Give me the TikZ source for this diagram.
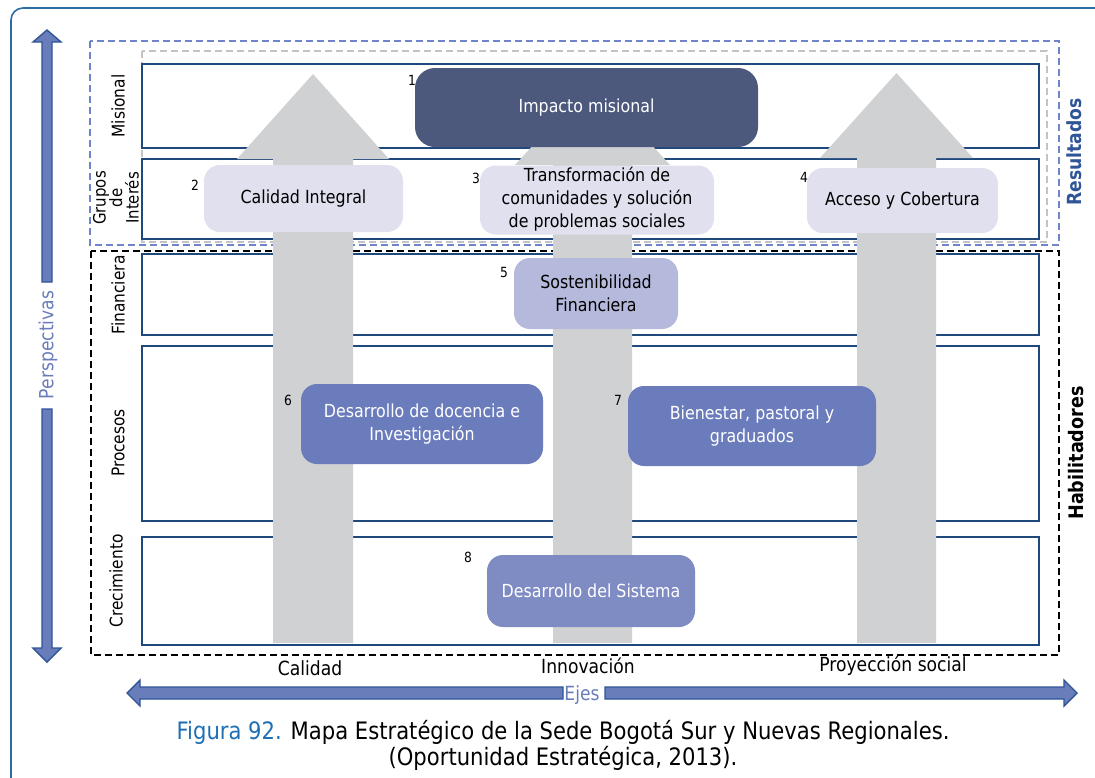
\documentclass[tikz,border=0pt]{standalone}
\usepackage{fontspec}
\setmainfont{DejaVu Sans}[FakeStretch=0.88]
\definecolor{framec}{RGB}{46,109,164}
\definecolor{rowc}{RGB}{31,73,125}
\definecolor{grayarr}{RGB}{208,209,211}
\definecolor{bA}{RGB}{76,89,125}
\definecolor{bB}{RGB}{224,224,238}
\definecolor{bC}{RGB}{181,186,220}
\definecolor{bD}{RGB}{107,124,188}
\definecolor{bE}{RGB}{127,139,195}
\definecolor{dashblue}{RGB}{112,132,204}
\definecolor{dashgray}{RGB}{195,195,195}
\definecolor{arrfill}{RGB}{106,125,187}
\definecolor{arrline}{RGB}{47,85,151}
\definecolor{lightlbl}{RGB}{106,125,187}
\definecolor{resc}{RGB}{47,85,151}
\definecolor{figc}{RGB}{31,111,181}
\tikzset{
  rowbox/.style={draw=rowc, line width=1.8pt, fill=white},
  sbox/.style={rounded corners=16pt, inner sep=0pt, align=center, font=\fontsize{18}{23}\selectfont},
  num/.style={font=\fontsize{14}{16}\selectfont, inner sep=0pt},
  side/.style={rotate=90, font=\fontsize{17.5}{17}\selectfont, align=center, inner sep=0pt},
  axis/.style={font=\fontsize{19.5}{22}\selectfont, inner sep=0pt},
  bluearrow/.style={fill=arrfill, draw=arrline, line width=1.4pt, line join=miter},
}
\begin{document}
\begin{tikzpicture}[x=1pt,y=-1pt]
\useasboundingbox (0,0) rectangle (1095,777);
\clip (0,0) rectangle (1095,777);
\fill[white] (0,0) rectangle (1095,777);
% outer frame
\draw[framec, line width=1.6pt, rounded corners=12pt] (11,800) -- (11,8) -- (1110,8);
% dashed groups
\draw[dashblue, line width=1.6pt, dash pattern=on 7pt off 4pt] (90,41) rectangle (1059,245);
\draw[dashgray, line width=1.6pt, dash pattern=on 7pt off 4pt] (142,51) rectangle (1047,242);
\draw[black, line width=1.4pt, dash pattern=on 7pt off 4pt] (91,251) rectangle (1059,655);
% rows
\draw[rowbox] (142,64) rectangle (1039,148);
\draw[rowbox] (142,159) rectangle (1039,239);
\draw[rowbox] (142,254) rectangle (1039,335);
\draw[rowbox] (142,346) rectangle (1039,521);
\draw[rowbox] (142,537) rectangle (1039,645);
% row labels
\node[side] (lmis) at (118,106) {Misional};
\node[side, font=\fontsize{17}{16.5}\selectfont] (lgru) at (116,198) {Grupos\\de\\Interés};
\node[side] (lfin) at (118,295) {Financiera};
\node[side] (lpro) at (118,443) {Procesos};
\node[side] (lcre) at (116,581) {Crecimiento};
% gray axis arrows
\fill[grayarr] (273,643) -- (273,159) -- (237,159) -- (313,74) -- (389,159) -- (353,159) -- (353,643) -- cycle;
\fill[grayarr] (553,643) -- (553,165) -- (515,165) -- (592.5,80) -- (670,165) -- (632,165) -- (632,643) -- cycle;
\fill[grayarr] (857,643) -- (857,158) -- (820,158) -- (896.5,73) -- (973,158) -- (936,158) -- (936,643) -- cycle;
% objective boxes
\node[sbox, fill=bA, text=white, minimum width=343pt, minimum height=79pt, rounded corners=20pt] (o1) at (586.5,107.5) {Impacto misional};
\node[sbox, fill=bB, minimum width=199pt, minimum height=67pt] (o2) at (303.5,198.5) {Calidad Integral};
\node[sbox, fill=bB, minimum width=234pt, minimum height=66pt] (o3) at (597,200) {\raisebox{-3pt}{\begin{tabular}{@{}c@{}}Transformación de\\comunidades y solución\\de problemas sociales\end{tabular}}};
\node[sbox, fill=bB, minimum width=191pt, minimum height=65pt] (o4) at (902.5,200.5) {Acceso y Cobertura};
\node[sbox, fill=bC, minimum width=164pt, minimum height=71pt] (o5) at (596,293.5) {Sostenibilidad\\Financiera};
\node[sbox, fill=bD, text=white, minimum width=242pt, minimum height=80pt] (o6) at (422,424) {Desarrollo de docencia e\\Investigación};
\node[sbox, fill=bD, text=white, minimum width=248pt, minimum height=80pt] (o7) at (752,426) {Bienestar, pastoral y\\graduados};
\node[sbox, fill=bE, text=white, minimum width=208pt, minimum height=72pt] (o8) at (591,591) {Desarrollo del Sistema};
% numbers
\node[num] (n1) at (412,80) {1};
\node[num] (n2) at (195,185) {2};
\node[num] (n3) at (476,178) {3};
\node[num] (n4) at (804,177) {4};
\node[num] (n5) at (504,272) {5};
\node[num] (n6) at (288,400) {6};
\node[num] (n7) at (618,400) {7};
\node[num] (n8) at (468,557) {8};
% left vertical arrow
\path[bluearrow] (42,282) -- (42,42) -- (33,42) -- (47,30) -- (61,42) -- (52,42) -- (52,282) -- cycle;
\path[bluearrow] (42,409) -- (42,648) -- (33,648) -- (47,662) -- (61,648) -- (52,648) -- (52,409) -- cycle;
\node[rotate=90, text=lightlbl, font=\fontsize{19.5}{22}\selectfont, inner sep=0pt] (persp) at (48,345) {Perspectivas};
% bottom horizontal arrow
\path[bluearrow] (563,687) -- (140,687) -- (140,680) -- (127,693) -- (140,706) -- (140,699) -- (563,699) -- cycle;
\path[bluearrow] (605,687) -- (1064,687) -- (1064,680) -- (1077,693) -- (1064,706) -- (1064,699) -- (605,699) -- cycle;
\node[text=lightlbl, font=\fontsize{19.5}{22}\selectfont, inner sep=0pt] (ejes) at (582,695) {Ejes};
% axis labels
\node[axis] (acal) at (310,668) {Calidad};
\node[axis] (ainn) at (588,666) {Innovación};
\node[axis] (apro) at (893,666) {Proyección social};
% group labels
\node[rotate=90, text=resc, font=\bfseries\fontsize{19.5}{22}\selectfont, inner sep=0pt] (gres) at (1074,152) {Resultados};
\node[rotate=90, font=\bfseries\fontsize{20}{22}\selectfont, inner sep=0pt] (ghab) at (1076,453) {Habilitadores};
% caption
\node[font=\fontsize{24}{28}\selectfont, inner sep=0pt] (cap1) at (563,732) {{\color{figc}Figura 92.} Mapa Estratégico de la Sede Bogotá Sur y Nuevas Regionales.};
\node[font=\fontsize{24}{28}\selectfont, inner sep=0pt] (cap2) at (563,758) {(Oportunidad Estratégica, 2013).};
\end{tikzpicture}
\end{document}
